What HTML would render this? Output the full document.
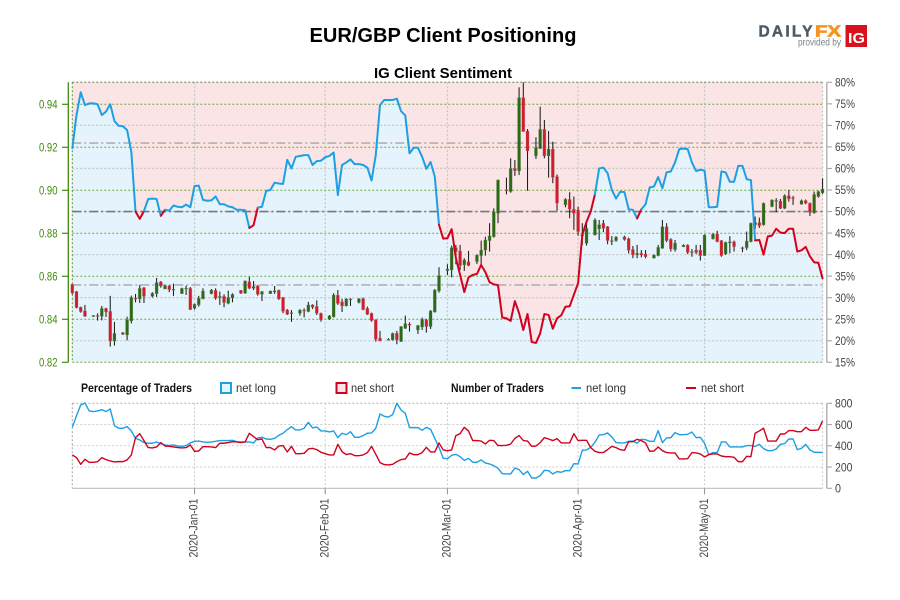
<!DOCTYPE html>
<html lang="en">
<head>
<meta charset="utf-8">
<title>EUR/GBP Client Positioning</title>
<style>
html,body{margin:0;padding:0;background:#fff;width:900px;height:600px;overflow:hidden}
svg{display:block}
text{font-family:"Liberation Sans",sans-serif}
</style>
</head>
<body>
<svg id="chart" xmlns="http://www.w3.org/2000/svg" width="900" height="600" viewBox="0 0 900 600">
  <rect x="0" y="0" width="900" height="600" fill="#ffffff"/>
  <text x="309.5" y="42" font-size="20.5" font-weight="700" fill="#000" textLength="267" lengthAdjust="spacingAndGlyphs">EUR/GBP Client Positioning</text>
  <text x="374" y="78" font-size="15" font-weight="700" fill="#000" textLength="138" lengthAdjust="spacingAndGlyphs">IG Client Sentiment</text>

  <g>
    <text x="758.5" y="36.5" font-size="15.5" font-weight="700" fill="#4d5a66" stroke="#4d5a66" stroke-width=".4" textLength="54" lengthAdjust="spacing">DAILY</text>
    <text x="815" y="36.5" font-size="15.5" font-weight="700" fill="#f7941e" stroke="#f7941e" stroke-width=".7" textLength="26" lengthAdjust="spacingAndGlyphs">FX</text>
    <text x="798" y="45.5" font-size="10.5" fill="#7a828a" textLength="43" lengthAdjust="spacingAndGlyphs">provided by</text>
    <rect x="845.5" y="25" width="21.5" height="22" fill="#d8131f"/>
    <text x="848" y="43" font-size="15" font-weight="700" fill="#fff" textLength="17" lengthAdjust="spacingAndGlyphs">IG</text>
  </g>

  <g font-size="12" fill="#333">
    <text x="81" y="392" font-weight="700" fill="#111" textLength="111" lengthAdjust="spacingAndGlyphs">Percentage of Traders</text>
    <rect x="221" y="383" width="10" height="10" fill="#e6f4fc" stroke="#1d9fe4" stroke-width="2"/>
    <text x="236" y="392" textLength="40" lengthAdjust="spacingAndGlyphs">net long</text>
    <rect x="336.5" y="383" width="10" height="10" fill="#f8e6e8" stroke="#d0021f" stroke-width="2"/>
    <text x="351" y="392" textLength="43" lengthAdjust="spacingAndGlyphs">net short</text>
    <text x="451" y="392" font-weight="700" fill="#111" textLength="93" lengthAdjust="spacingAndGlyphs">Number of Traders</text>
    <line x1="571.5" x2="581" y1="388" y2="388" stroke="#1d9fe4" stroke-width="2"/>
    <text x="586" y="392" textLength="40" lengthAdjust="spacingAndGlyphs">net long</text>
    <line x1="686" x2="696" y1="388" y2="388" stroke="#d0021f" stroke-width="2"/>
    <text x="701" y="392" textLength="43" lengthAdjust="spacingAndGlyphs">net short</text>
  </g>

  <g id="main-panel"></g>
  <g id="lower-panel"></g>
</svg>

<script>
/* x axis: calendar days since the first candle */
const monthLabels = ['2020-Jan-01','2020-Feb-01','2020-Mar-01','2020-Apr-01','2020-May-01'];
const monthDays = [29,60,89,120,150];
const dayCount = 179;

/* axis ticks */
const priceTicks = [0.94,0.92,0.90,0.88,0.86,0.84,0.82];
const percentTicks = [80,75,70,65,60,55,50,45,40,35,30,25,20,15];
const countTicks = [800,600,400,200,0];
const referenceLevels = [65.9,50,32.95];

/* percentage of traders net long, per day */
const sentiment = [
64.7,72.4,77.7,74.7,75.1,75.1,74.9,72.4,73.2,74.9,71,69.9,69.8,68.9,
63.9,50,48.3,50.1,52.9,53,52.9,49,50.4,50.2,51.4,51.1,51,51.6,
51,55.9,56,52.7,52.5,52.6,53.5,51.7,51.7,51.2,51,50.4,50.4,50.3,
46.2,46.8,50.9,51.1,54.8,55,56.7,56.5,56.4,62,60,62.7,62.9,63.1,
63.1,60.8,61.7,61.8,62.6,62.9,63.7,53.8,60.8,61.4,62.1,61,61,60.8,
60.2,57.2,63.1,74.7,75.9,75.9,75.9,76.2,73.3,72.3,63.5,64.8,64.8,62.7,
59.9,61.5,58.1,46.9,43.7,43.8,45.9,39.2,35.3,31.3,34.7,35.3,35.5,37.6,
35.9,33.6,33.1,32.9,25.4,25.2,24.6,29.2,26.4,22.5,26.2,19.7,19.5,21.7,
26.2,26,22.8,25.2,25.9,27.9,28,30.7,33.4,44.6,47.6,50,54,60,
60.2,58.9,55,53,54.6,54.5,50.5,50.4,48.4,50.5,51.7,55.6,55.8,58,
55.4,59.1,59.3,61.4,64.5,64.6,64.5,61.4,59.4,59.7,59.5,51,51,51.1,
59.3,59.1,56.9,56.9,60.6,60.6,57.5,57.3,43.3,43.4,40,44.2,44.4,46,
45.1,45,46,46,40.7,41,41.8,39.6,38.2,38.1,34.5];

/* EUR/GBP daily candles (null = no session) */
const opens = [
.8563,.8529,.8456,.8439,null,.8417,.8418,
.8414,.8451,.8437,.8299,null,.8338,.8327,
.8392,.8498,.8495,.8547,null,.8507,.8519,
.8574,.8541,.8555,.8540,null,.8519,.8543,
.8544,.8451,.8467,.8495,null,.8519,.8535,
.8501,.8507,.8474,.8499,null,.8535,.8521,
.8575,.8544,.8555,.8516,null,.8519,.8527,
.8535,.8501,.8443,.8431,null,.8428,.8443,
.8436,.8467,.8460,.8428,null,.8400,.8411,
.8512,.8481,.8462,.8493,null,.8478,.8496,
.8451,.8428,.8397,.8312,null,.8307,.8304,
.8335,.8296,.8358,.8378,null,.8350,.8364,
.8397,.8366,.8434,.8532,null,.8626,.8629,
.8733,.8718,.8653,.8668,null,.8668,.8696,
.8722,.8766,.8784,.8893,null,.9002,.8994,
.9102,.9090,.9431,.9276,null,.9160,.9194,
.9284,.9160,.9192,.9064,null,.8932,.8958,
.8912,.8909,.8794,.8753,null,.8792,.8820,
.8847,.8831,.8762,.8766,null,.8784,.8775,
.8725,.8699,.8707,.8704,null,.8684,.8696,
.8730,.8831,.8772,.8724,null,.8737,.8745,
.8715,.8722,.8722,.8696,null,.8774,.8797,
.8766,.8704,.8755,.8761,null,.8733,.8733,
.8761,.8840,.8850,.8839,null,.8924,.8950,
.8950,.8916,.8975,.8966,null,.8935,.8952,
.8940,.8895,.8971,.8988];
const highs = [
.8563,.8532,.8459,.8467,null,.8420,.8428,
.8462,.8454,.8509,.8388,null,.8341,.8412,
.8510,.8518,.8560,.8550,null,.8526,.8592,
.8578,.8560,.8560,.8566,null,.8547,.8557,
.8550,.8473,.8509,.8544,null,.8541,.8544,
.8529,.8516,.8533,.8521,null,.8536,.8581,
.8598,.8578,.8560,.8532,null,.8533,.8555,
.8538,.8504,.8448,.8443,null,.8447,.8451,
.8481,.8470,.8488,.8431,null,.8420,.8521,
.8536,.8495,.8498,.8498,null,.8499,.8501,
.8459,.8431,.8400,.8346,null,.8312,.8338,
.8346,.8369,.8417,.8386,null,.8374,.8408,
.8402,.8443,.8541,.8642,null,.8656,.8743,
.8746,.8746,.8684,.8718,null,.8702,.8766,
.8784,.8847,.8916,.9050,null,.9059,.9149,
.9141,.9479,.9502,.9285,null,.9247,.9389,
.9327,.9276,.9226,.9074,null,.8963,.8991,
.8971,.8924,.8847,.8850,null,.8870,.8862,
.8862,.8834,.8787,.8787,null,.8789,.8780,
.8741,.8746,.8722,.8722,null,.8702,.8746,
.8862,.8847,.8777,.8769,null,.8749,.8749,
.8727,.8746,.8746,.8795,null,.8800,.8812,
.8769,.8761,.8787,.8766,null,.8738,.8808,
.8850,.8878,.8873,.8943,null,.8958,.8963,
.8960,.8981,.9002,.8974,null,.8957,.8957,
.8943,.8994,.8998,.9056];
const lows = [
.8516,.8451,.8431,.8411,null,.8412,.8394,
.8395,.8411,.8273,.8278,null,.8327,.8302,
.8381,.8479,.8476,.8476,null,.8501,.8504,
.8547,.8540,.8526,.8509,null,.8518,.8513,
.8443,.8445,.8459,.8493,null,.8516,.8491,
.8467,.8456,.8470,.8479,null,.8518,.8519,
.8540,.8536,.8510,.8485,null,.8518,.8518,
.8490,.8428,.8420,.8388,null,.8417,.8409,
.8433,.8448,.8420,.8389,null,.8397,.8408,
.8467,.8434,.8460,.8462,null,.8474,.8442,
.8420,.8389,.8296,.8298,null,.8301,.8301,
.8284,.8295,.8355,.8343,null,.8332,.8350,
.8338,.8355,.8431,.8524,null,.8606,.8595,
.8656,.8629,.8625,.8647,null,.8657,.8656,
.8696,.8715,.8780,.8847,null,.8981,.8989,
.9067,.9071,.9273,.8998,null,.9146,.9192,
.9149,.9059,.9033,.8905,null,.8921,.8870,
.8816,.8789,.8746,.8743,null,.8790,.8769,
.8805,.8749,.8745,.8761,null,.8766,.8706,
.8684,.8684,.8688,.8684,null,.8684,.8693,
.8728,.8759,.8715,.8715,null,.8736,.8703,
.8691,.8703,.8673,.8695,null,.8771,.8758,
.8691,.8699,.8707,.8715,null,.8712,.8722,
.8758,.8820,.8825,.8836,null,.8921,.8898,
.8913,.8913,.8947,.8932,null,.8933,.8935,
.8881,.8891,.8966,.8983];
const closes = [
.8522,.8454,.8436,.8414,null,.8417,.8417,
.8451,.8434,.8299,.8335,null,.8330,.8397,
.8501,.8495,.8544,.8507,null,.8521,.8571,
.8555,.8557,.8538,.8540,null,.8544,.8545,
.8445,.8470,.8498,.8532,null,.8536,.8498,
.8507,.8478,.8502,.8516,null,.8521,.8578,
.8544,.8553,.8516,.8529,null,.8532,.8533,
.8495,.8437,.8423,.8431,null,.8443,.8439,
.8467,.8456,.8428,.8397,null,.8416,.8513,
.8474,.8462,.8495,.8495,null,.8495,.8445,
.8423,.8394,.8307,.8299,null,.8307,.8335,
.8304,.8366,.8380,.8372,null,.8371,.8400,
.8366,.8439,.8536,.8603,null,.8634,.8733,
.8715,.8650,.8676,.8650,null,.8699,.8722,
.8769,.8788,.8901,.9048,null,.8998,.9102,
.9091,.9431,.9273,.9183,null,.9198,.9284,
.9160,.9192,.9060,.8940,null,.8958,.8912,
.8893,.8808,.8788,.8823,null,.8862,.8840,
.8823,.8766,.8766,.8782,null,.8771,.8721,
.8699,.8707,.8699,.8691,null,.8699,.8735,
.8831,.8766,.8727,.8755,null,.8745,.8711,
.8715,.8711,.8696,.8792,null,.8797,.8761,
.8696,.8758,.8761,.8738,null,.8730,.8764,
.8847,.8850,.8835,.8940,null,.8955,.8953,
.8916,.8975,.8960,.8964,null,.8952,.8940,
.8901,.8981,.8994,.9006];

/* number of traders, per day */
const netLongTraders = [
574,684,784,803,728,722,728,740,722,747,590,565,565,580,
540,470,455,430,424,424,436,420,408,402,408,398,395,402,
427,442,445,436,433,436,442,449,449,449,452,439,436,436,
436,427,474,480,464,461,470,499,518,552,580,549,549,565,
621,568,577,540,540,530,540,477,518,505,533,480,480,496,
518,521,565,700,678,671,693,800,737,706,571,571,571,546,
574,555,470,386,282,279,311,320,298,263,282,245,245,267,
238,229,213,188,138,135,135,191,176,129,160,97,97,119,
169,166,135,157,151,166,166,232,229,358,361,386,433,502,
505,521,483,430,427,427,442,445,424,461,458,442,442,543,
430,474,477,524,505,505,508,530,477,480,424,317,336,336,
436,436,389,389,389,389,402,402,395,414,373,354,354,370,
414,420,464,464,364,376,414,361,339,339,336];
const netShortTraders = [
314,289,226,273,245,245,251,289,270,257,248,251,251,267,
314,477,514,449,383,380,389,430,398,395,389,383,380,383,
408,348,351,392,392,389,383,424,424,430,439,436,430,436,
518,486,458,464,383,383,361,398,402,342,395,326,326,329,
370,376,364,339,326,314,314,414,345,317,326,307,307,314,
336,395,320,242,223,220,226,251,270,276,333,317,317,336,
386,342,342,427,361,354,361,496,514,574,540,449,449,445,
417,452,449,402,402,405,417,470,496,449,445,395,398,430,
477,464,449,467,427,427,427,514,449,452,452,383,348,336,
336,364,395,383,364,358,439,439,461,449,427,348,351,389,
354,336,333,333,276,276,279,336,333,323,295,317,323,323,
304,298,298,292,251,251,301,298,518,540,565,445,445,445,
511,511,543,543,533,533,574,546,546,549,634];

/* axis functions */
const xDay = d => 72.3 + 4.215 * d;
const yPct = p => 82.3 + (80 - p) * 4.3077;
const yPrice = p => 362.3 - (p - 0.82) * 2150;
const yCount = v => 488.3 - v * 0.10625;

const NS = 'http://www.w3.org/2000/svg';
const mainPanel = document.getElementById('main-panel');
const lowerPanel = document.getElementById('lower-panel');
function mk(tag, parent, props) {
  const el = document.createElementNS(NS, tag);
  for (const k in props) el.setAttribute(k, props[k]);
  parent.appendChild(el);
  return el;
}
const plotL = xDay(0), plotR = xDay(178), plotT = yPct(80), plotB = yPct(15);
const lowT = yCount(800), lowB = yCount(0);
const GRID_GREEN = '#68a93c', GRID_GREY = '#c8c8c8', BLUE = '#1d9fe4', RED = '#d0021f';

/* backgrounds */
let el = mk('rect', mainPanel, {x: plotL, y: plotT, width: plotR - plotL, height: plotB - plotT, fill: '#fbe4e5'});



const areaPts = sentiment.map((v, i) => xDay(i).toFixed(2) + ',' + yPct(v).toFixed(2));
areaPts.push(plotR + ',' + plotB, plotL + ',' + plotB);
el = mk('polygon', mainPanel, {points: areaPts.join(' '), fill: '#e5f4fc'});



/* grey percent gridlines */
percentTicks.forEach(p => {
  if (priceTicks.some(q => Math.abs(yPrice(q) - yPct(p)) < 1)) return;
  el = mk('line', mainPanel, {x1: plotL, x2: plotR, y1: yPct(p), y2: yPct(p), stroke: GRID_GREY, 'stroke-width': 1.3, 'stroke-dasharray': '2 2'});
  
  
});
/* month gridlines */
monthDays.forEach(d => {
  el = mk('line', mainPanel, {x1: xDay(d), x2: xDay(d), y1: plotT, y2: plotB, stroke: GRID_GREY, 'stroke-width': 1.3, 'stroke-dasharray': '2 2'});
  
  
});
/* green price gridlines */
priceTicks.forEach(p => {
  el = mk('line', mainPanel, {x1: plotL, x2: plotR, y1: yPrice(p), y2: yPrice(p), stroke: GRID_GREEN, 'stroke-width': 1, 'stroke-dasharray': '2 2'});
  
  
});
/* plot frame */
el = mk('line', mainPanel, {x1: plotL, x2: plotR, y1: plotT, y2: plotT, stroke: '#7d8a55', 'stroke-width': 1, 'stroke-dasharray': '2 2'});


el = mk('line', mainPanel, {x1: plotL, x2: plotL, y1: plotT, y2: plotB, stroke: '#6f9a50', 'stroke-width': 1.2, 'stroke-dasharray': '2 2'});


el = mk('line', mainPanel, {x1: plotR, x2: plotR, y1: plotT, y2: plotB, stroke: GRID_GREY, 'stroke-width': 1.2, 'stroke-dasharray': '2 2'});



/* reference levels */
referenceLevels.forEach(p => {
  el = mk('line', mainPanel, {x1: plotL, x2: plotR, y1: yPct(p), y2: yPct(p), stroke: p === 50 ? '#74787c' : '#b4b0b4', 'stroke-width': 1.6, 'stroke-dasharray': '9 3 2 3'});
  
  
});

/* candles */
const candleGroup = mk('g', mainPanel, {});


opens.forEach((o, i) => {
  if (o === null) return;
  const c = closes[i], x = xDay(i);
  const up = c >= o;
  const yH = Math.max(yPrice(highs[i]), plotT), yL = yPrice(lows[i]);
  const top = yPrice(Math.max(o, c));
  const h = Math.max(yPrice(Math.min(o, c)) - top, 1);
  let m = mk('line', candleGroup, {x1: x, x2: x, y1: yH, y2: yL, stroke: '#1c1c1c', 'stroke-width': 1.05});
  
  
  m = mk('rect', candleGroup, {x: x - 1.5, y: top, width: 3, height: h, fill: up ? '#2a6a10' : '#d8192a', stroke: '#8c8c8c', 'stroke-opacity': .45, 'stroke-width': .6});
  
  
});

/* sentiment line: each segment takes its colour from its starting value */
const lineGroup = mk('g', mainPanel, {});


let runStart = 0;
for (let i = 1; i <= sentiment.length; i++) {
  const prevLong = sentiment[i - 1] > 50;
  const startLong = sentiment[runStart] > 50;
  if (i === sentiment.length || prevLong !== startLong) {
    const endIdx = i - 1;
    const pts = [];
    for (let j = runStart; j <= endIdx; j++) pts.push(xDay(j).toFixed(2) + ',' + yPct(sentiment[j]).toFixed(2));
    const seg = mk('polyline', lineGroup, {points: pts.join(' '), fill: 'none', stroke: startLong ? BLUE : RED, 'stroke-width': 2, 'stroke-linejoin': 'round', 'stroke-linecap': 'round'});
    
    
    runStart = i - 1;
  }
}

/* left price axis */
el = mk('line', mainPanel, {x1: 68.3, x2: 68.3, y1: plotT, y2: plotB, stroke: '#3f8c0c', 'stroke-width': 1.3});


priceTicks.forEach(p => {
  let t = mk('line', mainPanel, {x1: 62, x2: 68.3, y1: yPrice(p), y2: yPrice(p), stroke: '#3f8c0c', 'stroke-width': 1.2});
  
  
  t = mk('text', mainPanel, {x: 39, y: yPrice(p) + 4.2, 'font-size': 12, fill: '#3f8c0c', textLength: 18.5, lengthAdjust: 'spacingAndGlyphs'});
  t.textContent = p.toFixed(2);
  
  
});

/* right percent axis */
el = mk('line', mainPanel, {x1: 826.8, x2: 826.8, y1: plotT, y2: plotB, stroke: '#a8a8a8', 'stroke-width': 1.3});


percentTicks.forEach(p => {
  let t = mk('line', mainPanel, {x1: 826.8, x2: 832, y1: yPct(p), y2: yPct(p), stroke: '#a8a8a8', 'stroke-width': 1.1});
  
  
  t = mk('text', mainPanel, {x: 835, y: yPct(p) + 4.2, 'font-size': 12, fill: '#444', textLength: 20, lengthAdjust: 'spacingAndGlyphs'});
  t.textContent = p + '%';
  
  
});

/* lower panel grid */
countTicks.forEach(v => {
  if (v === 0) return;
  el = mk('line', lowerPanel, {x1: plotL, x2: plotR, y1: yCount(v), y2: yCount(v), stroke: v === 800 ? '#b0b0b0' : '#cccccc', 'stroke-width': 1, 'stroke-dasharray': '2 2'});
  
  
});
monthDays.forEach(d => {
  el = mk('line', lowerPanel, {x1: xDay(d), x2: xDay(d), y1: lowT, y2: lowB, stroke: '#cccccc', 'stroke-width': 1, 'stroke-dasharray': '2 2'});
  
  
});
el = mk('line', lowerPanel, {x1: plotL, x2: plotL, y1: lowT, y2: lowB, stroke: '#a9a9a9', 'stroke-width': 1.1, 'stroke-dasharray': '2 2'});


el = mk('line', lowerPanel, {x1: plotR, x2: plotR, y1: lowT, y2: lowB, stroke: '#cccccc', 'stroke-width': 1, 'stroke-dasharray': '2 2'});



/* traders lines */
el = mk('polyline', lowerPanel, {points: netLongTraders.map((v, i) => xDay(i).toFixed(2) + ',' + yCount(v).toFixed(2)).join(' '), fill: 'none', stroke: BLUE, 'stroke-width': 1.4, 'stroke-linejoin': 'round'});


el = mk('polyline', lowerPanel, {points: netShortTraders.map((v, i) => xDay(i).toFixed(2) + ',' + yCount(v).toFixed(2)).join(' '), fill: 'none', stroke: RED, 'stroke-width': 1.4, 'stroke-linejoin': 'round'});



/* x axis */
el = mk('line', lowerPanel, {x1: plotL, x2: plotR, y1: lowB, y2: lowB, stroke: '#bdbdbd', 'stroke-width': 1.1});


monthDays.forEach((d, i) => {
  let t = mk('line', lowerPanel, {x1: xDay(d), x2: xDay(d), y1: lowB, y2: lowB + 6, stroke: '#999', 'stroke-width': 1.1});
  
  
  const lx = xDay(d) + 3.2;
  t = mk('text', lowerPanel, {x: lx, y: 557.5, transform: 'rotate(-90 ' + lx + ' 557.5)', 'font-size': 12, fill: '#444', textLength: 59, lengthAdjust: 'spacingAndGlyphs'});
  t.textContent = monthLabels[i];
  
  
});

/* right count axis */
el = mk('line', lowerPanel, {x1: 826.8, x2: 826.8, y1: lowT, y2: lowB, stroke: '#a8a8a8', 'stroke-width': 1.3});


countTicks.forEach(v => {
  let t = mk('line', lowerPanel, {x1: 826.8, x2: 832, y1: yCount(v), y2: yCount(v), stroke: '#a8a8a8', 'stroke-width': 1.1});
  
  
  t = mk('text', lowerPanel, {x: 835, y: yCount(v) + 4.2, 'font-size': 12, fill: '#444', textLength: v === 0 ? 6 : 17.5, lengthAdjust: 'spacingAndGlyphs'});
  t.textContent = String(v);
  
  
});
</script>
</body>
</html>
